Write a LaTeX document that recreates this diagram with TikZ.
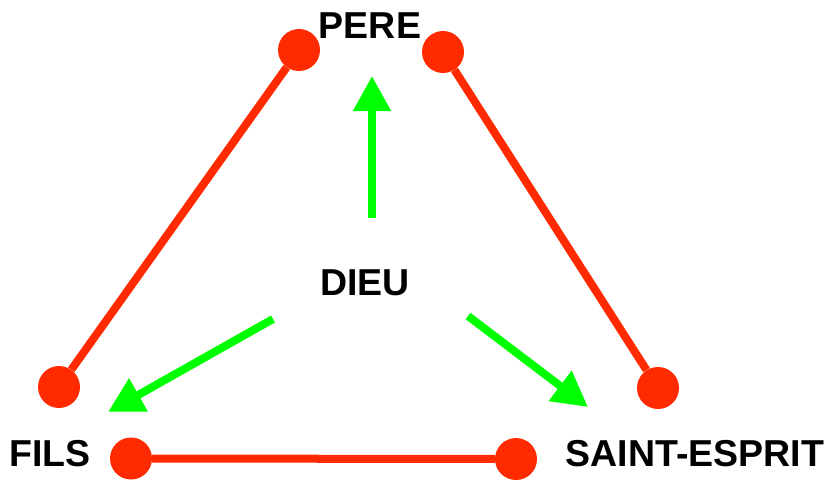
\documentclass[tikz,border=0pt]{standalone}
\usepackage{fontspec}
\setmainfont{Liberation Sans}
\usetikzlibrary{arrows.meta}
\definecolor{rouge}{RGB}{255,42,0}
\definecolor{vert}{RGB}{0,255,0}
\tikzset{%
  dot/.style={circle, fill=rouge, minimum size=1.26cm, inner sep=0pt},
  lien/.style={draw=rouge, line width=0.24cm},
  fleche/.style={draw=vert, line width=0.24cm,
                 -{Triangle[length=1.05cm, width=1.08cm]}},
  nom/.style={font=\fontsize{32}{32}\selectfont\bfseries, inner sep=0pt},
}

\begin{document}
\begin{tikzpicture}[x=0.03cm, y=-0.03cm]
\useasboundingbox (0,0) rectangle (825,479);

% les noms
\node[nom] (pere) at (370,25.5) {PERE};
\node[nom] (dieu) at (365,283) {DIEU};
\node[nom] (fils) at (50,454) {FILS};
\node[nom] (esprit) at (695,454) {SAINT-ESPRIT};

% les points du triangle
\node[dot] (pg) at (299,50) {};
\node[dot] (pd) at (443,52) {};
\node[dot] (fh) at (59,387) {};
\node[dot] (fd) at (131,458.5) {};
\node[dot] (sh) at (658,388) {};
\node[dot] (sg) at (516,459) {};

% les cotes
\draw[lien] (pg) -- (fh);
\draw[lien] (pd) -- (sh);
\draw[lien] (fd) -- (sg);

% les fleches depuis DIEU
\coordinate (d1) at (372,218);
\coordinate (d2) at (273,319);
\coordinate (d3) at (468,316);
\coordinate (t1) at (372,76);
\coordinate (t2) at (108,412);
\coordinate (t3) at (588,407);
\draw[fleche] (d1) -- (t1);
\draw[fleche] (d2) -- (t2);
\draw[fleche] (d3) -- (t3);

\end{tikzpicture}
\end{document}
